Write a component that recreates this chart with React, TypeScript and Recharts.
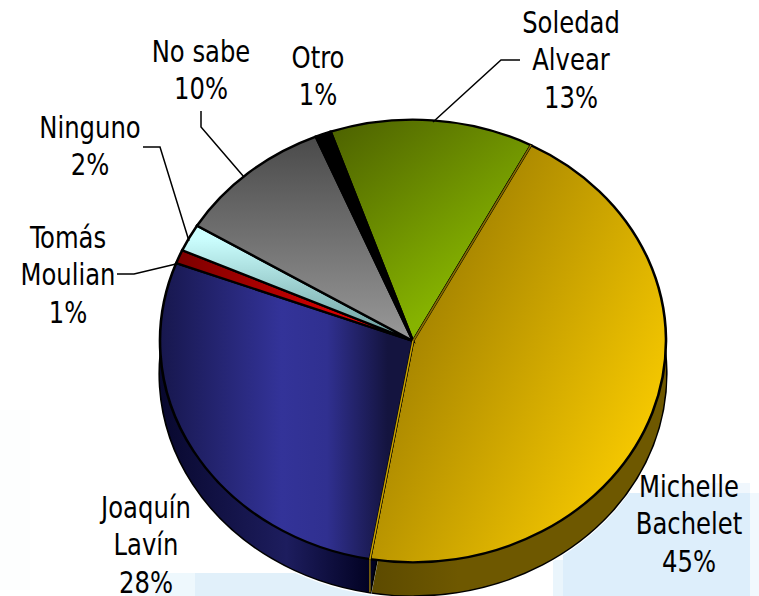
import { PieChart, Pie, Cell, Sector } from 'recharts'

const names = ['Soledad Alvear', 'Michelle Bachelet', 'Joaquín Lavín', 'Tomás Moulian', 'Ninguno', 'No sabe', 'Otro']
const values = [13, 45, 28, 1, 2, 10, 1]
const topFills = ['url(#gGreen)', 'url(#gYellow)', 'url(#gBlue)', 'url(#gRed)', 'url(#gCyan)', 'url(#gGrey)', '#000000']
const sideFills = ['#3d5000', 'url(#sYellow)', 'url(#sBlue)', '#600000', '#669999', '#444444', '#000000']

const labelLines = [
  ['Soledad', 'Alvear', '13%'],
  ['Michelle', 'Bachelet', '45%'],
  ['Joaquín', 'Lavín', '28%'],
  ['Tomás', 'Moulian', '1%'],
  ['Ninguno', '2%'],
  ['No sabe', '10%'],
  ['Otro', '1%'],
]

// label anchor: centre x, first baseline
const labelAnchors = [
  [571, 33],
  [689, 497],
  [146, 518],
  [68, 248],
  [90, 138],
  [201, 62],
  [318, 68],
]

const leaders: Record<number, string> = {
  0: '520,60 501,60 433,122',
  3: '117,274 134,274 176,264',
  4: '143,147 160,147 189,241',
  5: '201,111 201,127 244,177',
}

const WIDTH = 759
const HEIGHT = 596
const CX = 413
const CY = 341
const RADIUS = 253
const SQUASH = 0.875
const DEPTH = 33
const START = 109

const squash = `translate(${CX} ${CY}) scale(1 ${SQUASH}) translate(${-CX} ${-CY})`

const blotches = [
  { left: 563, top: 493, width: 187, height: 103, background: '#ddeefb' },
  { left: 640, top: 483, width: 110, height: 10, background: '#f0f7fd' },
  { left: 750, top: 493, width: 9, height: 103, background: '#f1f8fd' },
  { left: 553, top: 560, width: 10, height: 36, background: '#eaf5fc' },
  { left: 125, top: 573, width: 30, height: 23, background: '#f6fbfe' },
  { left: 155, top: 573, width: 40, height: 23, background: '#eef8fd' },
  { left: 195, top: 573, width: 185, height: 23, background: '#e1f0fa' },
  { left: 0, top: 410, width: 30, height: 180, background: '#fdfefe' },
]

function TopSlice(props: any) {
  return (
    <g transform={squash}>
      <Sector {...props} stroke="#000" strokeWidth={2.6} />
    </g>
  )
}

function SideSlice(props: any) {
  const steps = []
  for (let off = DEPTH; off >= 0; off -= 3) steps.push(off)
  const { cx, cy, innerRadius, outerRadius, startAngle, endAngle, fill } = props
  const base = { cx, cy, innerRadius, outerRadius, startAngle, endAngle }
  return (
    <g>
      <g transform={`translate(0 ${DEPTH + 1.5}) ${squash}`}>
        <Sector {...base} fill="none" stroke="#fff" strokeWidth={3} />
      </g>
      <g transform={`translate(0 ${DEPTH}) ${squash}`}>
        <Sector {...base} fill="none" stroke="#000" strokeWidth={3.2} />
      </g>
      {steps.map(off => (
        <g key={off} transform={`translate(0 ${off}) ${squash}`}>
          <Sector {...base} fill={fill} stroke="none" />
        </g>
      ))}
    </g>
  )
}

// thin olive edges of the yellow slice, they sit above its neighbours
function EdgeSlice(props: any) {
  const { cx, cy, outerRadius, startAngle, endAngle, index } = props
  if (index !== 1) return <g />
  const pt = (a: number) => {
    const rad = (a * Math.PI) / 180
    return [cx + outerRadius * Math.cos(rad), cy - outerRadius * SQUASH * Math.sin(rad)]
  }
  const [x1, y1] = pt(startAngle)
  const [x2, y2] = pt(endAngle)
  return (
    <g fill="none">
      <line x1={cx} y1={cy} x2={x1} y2={y1} stroke="#8a6e00" strokeWidth={1.5} />
      <line x1={cx} y1={cy} x2={x2} y2={y2} stroke="#c9a200" strokeWidth={1.5} />
      <line x1={x2} y1={y2} x2={x2} y2={y2 + DEPTH} stroke="#c9a200" strokeWidth={1} />
    </g>
  )
}

function SliceLabel({ index }: any) {
  const [x, y] = labelAnchors[index]
  return (
    <g>
      {leaders[index] && <polyline points={leaders[index]} fill="none" stroke="#000" strokeWidth={1.5} />}
      <text
        transform={`translate(${x} ${y}) scale(0.9 1)`}
        textAnchor="middle"
        fontFamily="'DejaVu Sans Condensed', 'DejaVu Sans'"
        fontSize={30}
        fill="#000"
        stroke="none"
      >
        {labelLines[index].map((line, i) => (
          <tspan key={line} x={0} dy={i === 0 ? 0 : 37.5}>
            {line}
          </tspan>
        ))}
      </text>
    </g>
  )
}

const data = names.map((name, i) => ({ name, value: values[i] }))

export default function App() {
  const pieProps = {
    data,
    dataKey: 'value',
    nameKey: 'name',
    cx: CX,
    cy: CY,
    innerRadius: 0,
    outerRadius: RADIUS,
    startAngle: START,
    endAngle: START - 360,
    paddingAngle: 0,
    isAnimationActive: false,
    stroke: 'none',
  }

  return (
    <div style={{ position: 'absolute', left: 0, top: 0, width: WIDTH, height: HEIGHT, background: '#fff', overflow: 'hidden' }}>
      {blotches.map((b, i) => (
        <div key={i} style={{ position: 'absolute', ...b }} />
      ))}
      <div style={{ position: 'absolute', left: 0, top: 0 }}>
        <PieChart width={WIDTH} height={HEIGHT} margin={{ top: 0, right: 0, bottom: 0, left: 0 }}>
          <defs>
            <linearGradient id="gGreen" x1="0.05" y1="0" x2="0.6" y2="0.8">
              <stop offset="0" stopColor="#4d6200" />
              <stop offset="1" stopColor="#86b300" />
            </linearGradient>
            <linearGradient id="gYellow" x1="0.15" y1="0.2" x2="0.9" y2="0.72">
              <stop offset="0" stopColor="#9a7a00" />
              <stop offset="1" stopColor="#f4c700" />
            </linearGradient>
            <linearGradient id="gBlue" x1="0" y1="0" x2="1" y2="0">
              <stop offset="0" stopColor="#17174d" />
              <stop offset="0.48" stopColor="#333399" />
              <stop offset="0.66" stopColor="#303090" />
              <stop offset="0.9" stopColor="#14143f" />
            </linearGradient>
            <linearGradient id="gRed" x1="0" y1="0" x2="1" y2="0">
              <stop offset="0" stopColor="#7a0000" />
              <stop offset="1" stopColor="#ff0000" />
            </linearGradient>
            <linearGradient id="gCyan" x1="0" y1="0.1" x2="0" y2="1">
              <stop offset="0" stopColor="#ccffff" />
              <stop offset="1" stopColor="#669999" />
            </linearGradient>
            <linearGradient id="gGrey" x1="0" y1="0" x2="0" y2="1">
              <stop offset="0" stopColor="#4a4a4a" />
              <stop offset="1" stopColor="#999999" />
            </linearGradient>
            <linearGradient id="sYellow" x1="0" y1="0" x2="1" y2="0">
              <stop offset="0" stopColor="#5c4a00" />
              <stop offset="0.3" stopColor="#6e5800" />
              <stop offset="1" stopColor="#6e5800" />
            </linearGradient>
            <linearGradient id="sBlue" x1="0" y1="0" x2="1" y2="0">
              <stop offset="0" stopColor="#08082e" />
              <stop offset="0.5" stopColor="#1d1d5e" />
              <stop offset="0.85" stopColor="#00001f" />
            </linearGradient>
          </defs>
          <Pie {...pieProps} shape={SideSlice}>
            {names.map((name, i) => (
              <Cell key={name} fill={sideFills[i]} />
            ))}
          </Pie>
          <Pie {...pieProps} shape={TopSlice}>
            {names.map((name, i) => (
              <Cell key={name} fill={topFills[i]} />
            ))}
          </Pie>
          <Pie {...pieProps} fill="none" shape={EdgeSlice} label={SliceLabel} labelLine={false} />
        </PieChart>
      </div>
    </div>
  )
}
